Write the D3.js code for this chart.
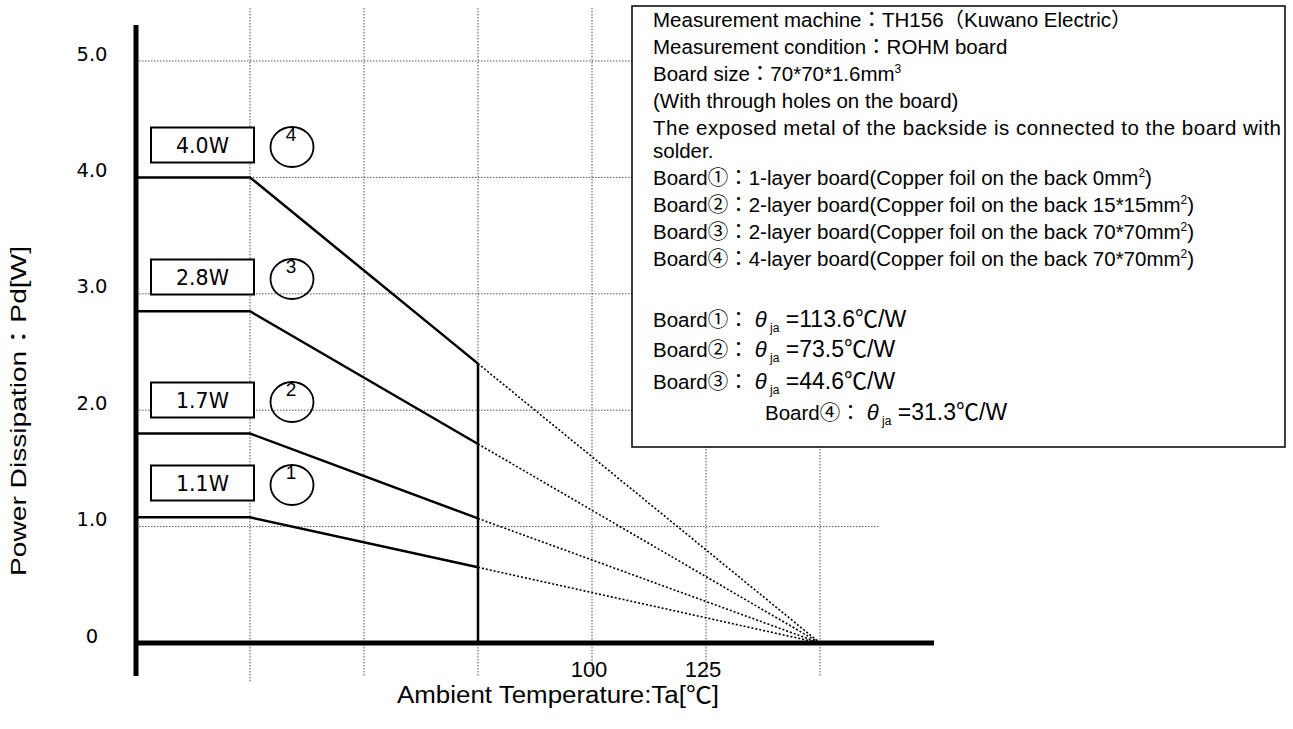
<!DOCTYPE html>
<html><head><meta charset="utf-8">
<script src="https://cdn.jsdelivr.net/npm/d3@7"></script>
<style>body{margin:0;background:#fff}</style>
</head><body>
<svg id="c" width="1293" height="729"></svg>
<script>
// ---- data ----
const boards = ["1", "2", "3", "4"];
const ratedLabels = ["1.1W", "1.7W", "2.8W", "4.0W"];
const pdFlat = [1.08, 1.80, 2.85, 4.00];      // W, 0..25 degC
const pdAtCut = [0.65, 1.07, 1.71, 2.40];     // W at 75 degC
const kneeTemp = 25, cutTemp = 75, zeroTemp = 150;
const gridTemps = [25, 50, 75, 100, 125, 150];
const gridPowers = [1, 2, 3, 4, 5];
const yTickValues = [0, 1, 2, 3, 4, 5];
const yTickLabels = ["0", "1.0", "2.0", "3.0", "4.0", "5.0"];
const xTickValues = [100, 125];
const xTickLabels = ["100", "125"];
const thetaJa = ["113.6", "73.5", "44.6", "31.3"];
const circled = ["①", "②", "③", "④"];
const noteLines = [
  "Measurement machine：TH156（Kuwano Electric）",
  "Measurement condition：ROHM board",
  "Board size：70*70*1.6mm^3",
  "(With through holes on the board)",
  "The exposed metal of the backside is connected to the board with",
  "solder.",
  "Board①：1-layer board(Copper foil on the back 0mm^2)",
  "Board②：2-layer board(Copper foil on the back 15*15mm^2)",
  "Board③：2-layer board(Copper foil on the back 70*70mm^2)",
  "Board④：4-layer board(Copper foil on the back 70*70mm^2)"
];

// ---- layout ----
const svg = d3.select("#c");
const x = d3.scaleLinear().domain([0, 175]).range([136, 934]);
const y = d3.scaleLinear().domain([0, 5]).range([643, 61]);
const SANS = "'Liberation Sans',Arial,'Noto Sans CJK JP',sans-serif";
const WIDE = "'DejaVu Sans',sans-serif";

// grid
const grid = svg.append("g").attr("stroke", "#555").attr("stroke-width", 1).attr("stroke-dasharray", "1.5,1.5");
grid.selectAll("line.h").data(gridPowers).join("line")
  .attr("x1", x(0)).attr("x2", 880).attr("y1", d => y(d)).attr("y2", d => y(d));
grid.selectAll("line.v").data(gridTemps).join("line")
  .attr("x1", d => x(d)).attr("x2", d => x(d)).attr("y1", 8).attr("y2", (d) => d === 25 ? 683 : 676);

// note box
const box = svg.append("g");
box.append("rect").attr("x", 632).attr("y", 6).attr("width", 653).attr("height", 441)
  .attr("fill", "#fff").attr("stroke", "#000").attr("stroke-width", 1.5);

const noteY = [27, 54, 81, 108, 135, 158, 185, 212, 239, 266];
noteLines.forEach((line, i) => {
  const t = box.append("text").attr("x", 653).attr("y", noteY[i])
    .attr("font-family", SANS).attr("font-size", 20.5).attr("fill", "#000");
  const parts = line.split(/\^(\d)/);
  let sup = false;
  parts.forEach((p, k) => {
    if (k % 2 === 0) {
      if (p) { const ts = t.append("tspan").text(p); if (sup) { ts.attr("dy", 8); sup = false; } }
    } else { t.append("tspan").attr("dy", -8).attr("font-size", 12).text(p); sup = true; }
  });
  if (i === 4) t.attr("textLength", 628).attr("lengthAdjust", "spacing");
});
const thetaY = [327, 357, 389, 420];
thetaJa.forEach((v, i) => {
  const t = box.append("text").attr("x", i === 3 ? 765 : 653).attr("y", thetaY[i])
    .attr("font-family", SANS).attr("font-size", 20.5).attr("fill", "#000");
  t.append("tspan").text("Board" + circled[i] + "：");
  t.append("tspan").attr("font-style", "italic").attr("font-size", 22).text(" θ");
  t.append("tspan").attr("font-size", 12).attr("dy", 5).text(" ja");
  t.append("tspan").attr("font-size", 23).attr("dy", -5).text(" =" + v + "℃/W");
});

// axes
svg.append("line").attr("x1", x(0)).attr("x2", x(0)).attr("y1", 25).attr("y2", 676)
  .attr("stroke", "#000").attr("stroke-width", 5);
svg.append("line").attr("x1", x(0)).attr("x2", x(175)).attr("y1", y(0)).attr("y2", y(0))
  .attr("stroke", "#000").attr("stroke-width", 5);

// derating curves
const solid = d3.line().x(d => x(d[0])).y(d => y(d[1]));
boards.forEach((b, i) => {
  svg.append("path").attr("d", solid([[0, pdFlat[i]], [kneeTemp, pdFlat[i]], [cutTemp, pdAtCut[i]]]))
    .attr("fill", "none").attr("stroke", "#000").attr("stroke-width", 2.5);
  svg.append("path").attr("d", solid([[cutTemp, pdAtCut[i]], [zeroTemp, 0]]))
    .attr("fill", "none").attr("stroke", "#000").attr("stroke-width", 1.6).attr("stroke-dasharray", "2,2");
});
svg.append("line").attr("x1", x(cutTemp)).attr("x2", x(cutTemp))
  .attr("y1", y(d3.max(pdAtCut))).attr("y2", y(0)).attr("stroke", "#000").attr("stroke-width", 2.5);

// labels boxes & circles
const labelCY = [483, 400, 277, 145];
boards.forEach((b, i) => {
  svg.append("rect").attr("x", 151).attr("y", labelCY[i] - 17.5).attr("width", 103).attr("height", 35)
    .attr("fill", "#fff").attr("stroke", "#000").attr("stroke-width", 2);
  svg.append("text").attr("x", 202.5).attr("y", labelCY[i] + 7.5).attr("text-anchor", "middle")
    .attr("font-family", WIDE).attr("font-size", 20.5).text(ratedLabels[i]);
  svg.append("ellipse").attr("cx", 292).attr("cy", labelCY[i] + 2).attr("rx", 21.5).attr("ry", 20)
    .attr("fill", "none").attr("stroke", "#000").attr("stroke-width", 1.8);
  svg.append("text").attr("x", 291).attr("y", labelCY[i] - 4).attr("text-anchor", "middle")
    .attr("font-family", SANS).attr("font-size", 19).text(b);
});

// tick labels
svg.selectAll("text.yt").data(yTickValues).join("text")
  .attr("x", 92).attr("y", d => y(d) - 0.5).attr("text-anchor", "middle")
  .attr("font-family", WIDE).attr("font-size", 19.5).text((d, i) => yTickLabels[i]);
svg.selectAll("text.xt").data(xTickValues).join("text")
  .attr("x", d => x(d) - 3).attr("y", 677).attr("text-anchor", "middle")
  .attr("font-family", SANS).attr("font-size", 22).text((d, i) => xTickLabels[i]);

// axis titles
svg.append("text").attr("x", 558).attr("y", 703).attr("text-anchor", "middle")
  .attr("font-family", SANS).attr("font-size", 23)
  .attr("textLength", 322).attr("lengthAdjust", "spacingAndGlyphs")
  .text("Ambient Temperature:Ta[℃]");
svg.append("text").attr("transform", "translate(26,411) rotate(-90)").attr("text-anchor", "middle")
  .attr("font-family", SANS).attr("font-size", 22)
  .attr("textLength", 330).attr("lengthAdjust", "spacingAndGlyphs")
  .text("Power Dissipation：Pd[W]");
</script>
</body></html>
